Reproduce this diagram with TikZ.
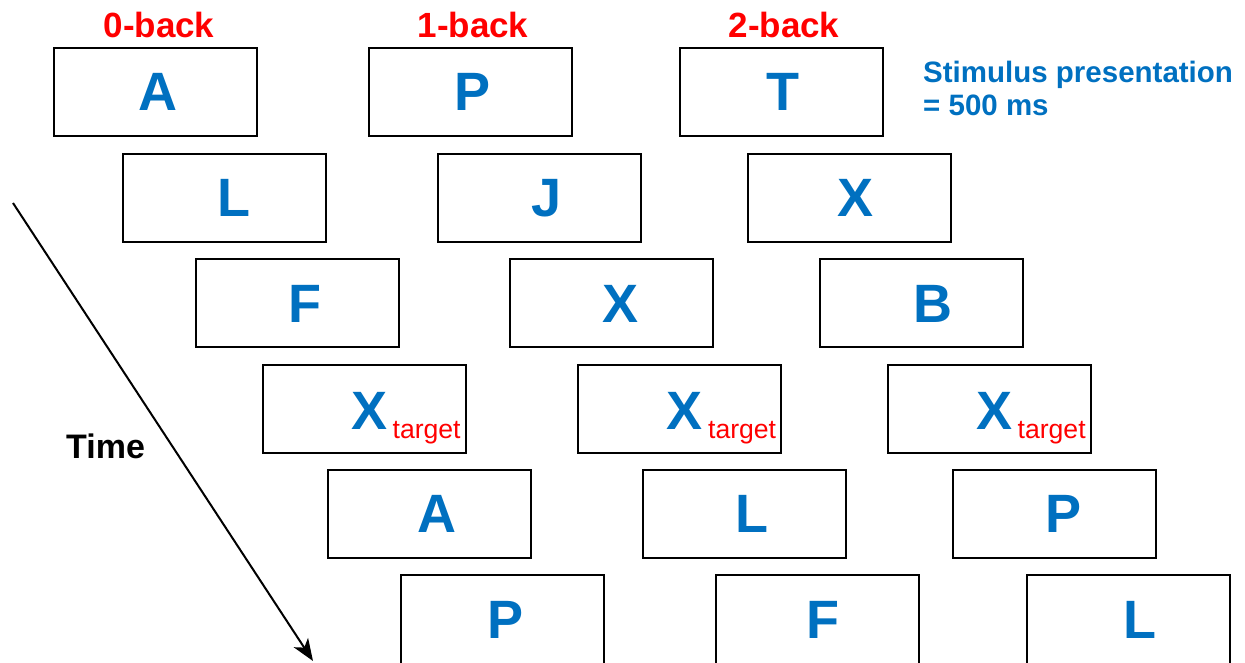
\documentclass[tikz,border=0pt]{standalone}
\usepackage{fontspec}
\setmainfont{Liberation Sans}
\usetikzlibrary{arrows.meta,calc}
\definecolor{stimblue}{RGB}{0,112,192}
\newcommand\stimfont{\fontsize{54}{54}\selectfont\bfseries}
\newcommand\headfont{\fontsize{35}{35}\selectfont\bfseries}
\newcommand\notefont{\fontsize{29.5}{33}\selectfont\bfseries}
\newcommand\timefont{\fontsize{34}{34}\selectfont\bfseries}
\newcommand\tgtfont{\fontsize{26.6}{26.6}\selectfont}
\tikzset{
  trial/.style={draw=black, line width=2pt, minimum width=203pt, minimum height=88pt,
                inner sep=0pt},
  lastrow/.style={minimum height=92pt},
  letter/.style={inner sep=0pt, font=\stimfont, text=stimblue},
  tletter/.style={anchor=base west, inner sep=0pt, font=\stimfont, text=stimblue},
  tsub/.style={anchor=base west, inner sep=0pt, font=\tgtfont, text=red},
  head/.style={anchor=base, inner sep=0pt, font=\headfont, text=red},
  note/.style={anchor=base west, inner sep=0pt, font=\notefont, text=stimblue},
}
\begin{document}
\begin{tikzpicture}[x=1pt, y=-1pt]
\useasboundingbox (0,0) rectangle (1245,663);

% column headings
\node[head] (h0) at (159,38) {0-back};
\node[head] (h1) at (473,38) {1-back};
\node[head] (h2) at (784,38) {2-back};

% note on stimulus duration
\node[note] (s1) at (923,83) {Stimulus presentation};
\node[note] (s2) at (923,116) {= 500 ms};

% 0-back sequence: frames
\node[trial] (a1) at (155.5,92)  {};
\node[trial] (a2) at (224.5,198) {};
\node[trial] (a3) at (297.5,303) {};
\node[trial] (a4) at (364.5,409) {};
\node[trial] (a5) at (429.5,514) {};
\node[trial,lastrow] (a6) at (502.5,621) {};

% 1-back sequence: frames
\node[trial] (b1) at (470.5,92)  {};
\node[trial] (b2) at (539.5,198) {};
\node[trial] (b3) at (611.5,303) {};
\node[trial] (b4) at (679.5,409) {};
\node[trial] (b5) at (744.5,514) {};
\node[trial,lastrow] (b6) at (817.5,621) {};

% 2-back sequence: frames
\node[trial] (c1) at (781.5,92)  {};
\node[trial] (c2) at (849.5,198) {};
\node[trial] (c3) at (921.5,303) {};
\node[trial] (c4) at (989.5,409) {};
\node[trial] (c5) at (1054.5,514) {};
\node[trial,lastrow] (c6) at (1128.5,621) {};

% stimulus letters
\node[letter] (a1l) at (157.5,92)  {A};
\node[letter] (a2l) at (234,198)   {L};
\node[letter] (a3l) at (304.5,304) {F};
\node[letter] (a5l) at (436.5,514) {A};
\node[letter] (a6l) at (506,620)   {P};

\node[letter] (b1l) at (473,92)    {P};
\node[letter] (b2l) at (547,198)   {J};
\node[letter] (b3l) at (620.5,304) {X};
\node[letter] (b5l) at (752,514)   {L};
\node[letter] (b6l) at (823,620)   {F};

\node[letter] (c1l) at (783,92)    {T};
\node[letter] (c2l) at (855.5,198) {X};
\node[letter] (c3l) at (933,304)   {B};
\node[letter] (c5l) at (1063,514)  {P};
\node[letter] (c6l) at (1139.5,620) {L};

% target trials
\node[tletter] (a4x) at (351,429) {X};
\node[tsub] (a4t) at ($(a4x.base east)+(5,9)$) {target};
\node[tletter] (b4x) at (666.5,429) {X};
\node[tsub] (b4t) at ($(b4x.base east)+(5,9)$) {target};
\node[tletter] (c4x) at (976,429) {X};
\node[tsub] (c4t) at ($(c4x.base east)+(5,9)$) {target};

% time axis
\coordinate (t0) at (13,203);
\coordinate (t1) at (313,661);
\draw[line width=2pt, -{Stealth[length=22pt, width=17pt, inset=6pt]}] (t0) -- (t1);
\node[anchor=base west, inner sep=0pt, font=\timefont] (time) at (66,458) {Time};
\end{tikzpicture}
\end{document}
